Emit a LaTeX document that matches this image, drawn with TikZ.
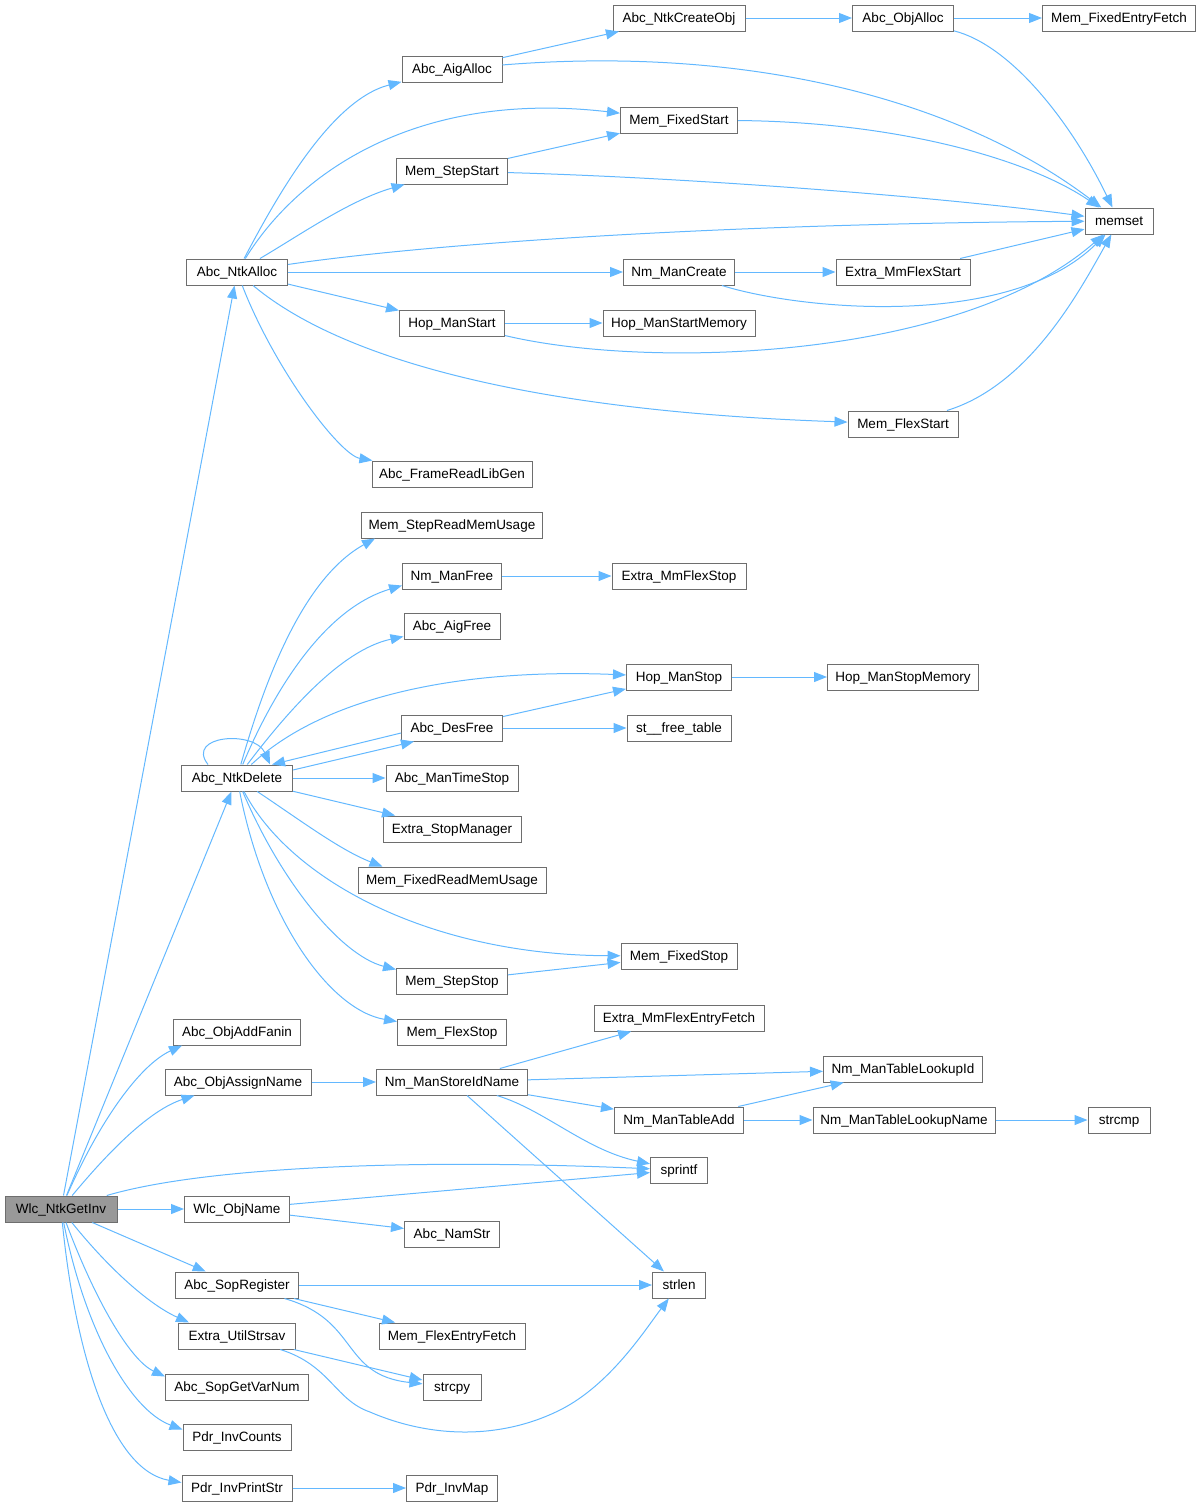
\documentclass[tikz,border=0pt]{standalone}
\usepackage{fontspec}
\setmainfont{Liberation Sans}
\usetikzlibrary{arrows.meta}
\definecolor{edgeblue}{HTML}{63B8FF}
\definecolor{boxline}{HTML}{6E6E6E}
\definecolor{rootfill}{HTML}{999999}

\begin{document}
\begin{tikzpicture}[
    x=1pt, y=-1pt,
    box/.style   ={draw=boxline, line width=1pt, fill=white, inner sep=0pt,
                   minimum height=26pt, text height=9.7pt, text depth=0pt,
                   font=\fontsize{13.5}{16}\selectfont},
    rootbox/.style={box, fill=rootfill},
    arr/.style   ={-{Triangle[length=13pt, width=10pt]}, draw=edgeblue, line width=1pt}
]
\useasboundingbox (0,0) rectangle (1202,1507);

%% -- root and first level ------------------------------------------
\node[rootbox, minimum width=112pt] (ntkgetinv)  at (61,  1209) {Wlc\_NtkGetInv};
\node[box, minimum width=101pt] (ntkalloc)   at (237, 272)  {Abc\_NtkAlloc};
\node[box, minimum width=111pt] (ntkdelete)  at (237, 778)  {Abc\_NtkDelete};
\node[box, minimum width=127pt] (addfanin)   at (237, 1032) {Abc\_ObjAddFanin};
\node[box, minimum width=146pt] (assignname) at (238, 1082) {Abc\_ObjAssignName};
\node[box, minimum width=105pt] (objname)    at (237, 1209) {Wlc\_ObjName};
\node[box, minimum width=123pt] (sopreg)     at (237, 1285) {Abc\_SopRegister};
\node[box, minimum width=117pt] (strsav)     at (237, 1336) {Extra\_UtilStrsav};
\node[box, minimum width=143pt] (varnum)     at (237, 1387) {Abc\_SopGetVarNum};
\node[box, minimum width=108pt] (invcounts)  at (237, 1437) {Pdr\_InvCounts};
\node[box, minimum width=110pt] (invprint)   at (237, 1488) {Pdr\_InvPrintStr};

%% -- callees of Abc_NtkAlloc ----------------------------------------
\node[box, minimum width=100pt] (aigalloc)   at (452, 69)   {Abc\_AigAlloc};
\node[box, minimum width=132pt] (createobj)  at (679, 18)   {Abc\_NtkCreateObj};
\node[box, minimum width=101pt] (objalloc)   at (903, 18)   {Abc\_ObjAlloc};
\node[box, minimum width=153pt] (fixedentry) at (1119, 18)  {Mem\_FixedEntryFetch};
\node[box, minimum width=117pt] (fixedstart) at (679, 120)  {Mem\_FixedStart};
\node[box, minimum width=111pt] (stepstart)  at (452, 171)  {Mem\_StepStart};
\node[box, minimum width=68pt]  (memset)     at (1119, 221) {memset};
\node[box, minimum width=111pt] (nmcreate)   at (679, 272)  {Nm\_ManCreate};
\node[box, minimum width=134pt] (mmflexstart) at (903, 272) {Extra\_MmFlexStart};
\node[box, minimum width=105pt] (hopstart)   at (452, 323)  {Hop\_ManStart};
\node[box, minimum width=152pt] (hopstartmem) at (679, 323) {Hop\_ManStartMemory};
\node[box, minimum width=110pt] (flexstart)  at (903, 424)  {Mem\_FlexStart};
\node[box, minimum width=160pt] (libgen)     at (452, 474)  {Abc\_FrameReadLibGen};

%% -- callees of Abc_NtkDelete ---------------------------------------
\node[box, minimum width=181pt] (stepusage)  at (452, 525)  {Mem\_StepReadMemUsage};
\node[box, minimum width=99pt]  (nmfree)     at (452, 576)  {Nm\_ManFree};
\node[box, minimum width=134pt] (mmflexstop) at (679, 576)  {Extra\_MmFlexStop};
\node[box, minimum width=96pt]  (aigfree)    at (452, 626)  {Abc\_AigFree};
\node[box, minimum width=105pt] (hopstop)    at (679, 677)  {Hop\_ManStop};
\node[box, minimum width=151pt] (hopstopmem) at (903, 677)  {Hop\_ManStopMemory};
\node[box, minimum width=101pt] (desfree)    at (452, 728)  {Abc\_DesFree};
\node[box, minimum width=104pt] (freetable)  at (679, 728)  {st\_\_free\_table};
\node[box, minimum width=132pt] (timestop)   at (452, 778)  {Abc\_ManTimeStop};
\node[box, minimum width=138pt] (stopmgr)    at (452, 829)  {Extra\_StopManager};
\node[box, minimum width=188pt] (fixedusage) at (452, 880)  {Mem\_FixedReadMemUsage};
\node[box, minimum width=116pt] (fixedstop)  at (679, 956)  {Mem\_FixedStop};
\node[box, minimum width=111pt] (stepstop)   at (452, 981)  {Mem\_StepStop};
\node[box, minimum width=109pt] (flexstop)   at (452, 1032) {Mem\_FlexStop};

%% -- names, strings ---------------------------------------------------
\node[box, minimum width=170pt] (mmflexentry) at (679, 1018) {Extra\_MmFlexEntryFetch};
\node[box, minimum width=151pt] (storeid)    at (452, 1082) {Nm\_ManStoreIdName};
\node[box, minimum width=159pt] (lookupid)   at (903, 1069) {Nm\_ManTableLookupId};
\node[box, minimum width=129pt] (tableadd)   at (679, 1120) {Nm\_ManTableAdd};
\node[box, minimum width=182pt] (lookupname) at (904, 1120) {Nm\_ManTableLookupName};
\node[box, minimum width=62pt]  (strcmp)     at (1119, 1120) {strcmp};
\node[box, minimum width=57pt]  (sprintf)    at (679, 1170) {sprintf};
\node[box, minimum width=95pt]  (namstr)     at (452, 1234) {Abc\_NamStr};
\node[box, minimum width=53pt]  (strlen)     at (679, 1285) {strlen};
\node[box, minimum width=146pt] (flexentry)  at (452, 1336) {Mem\_FlexEntryFetch};
\node[box, minimum width=58pt]  (strcpy)     at (452, 1387) {strcpy};
\node[box, minimum width=91pt]  (invmap)     at (452, 1488) {Pdr\_InvMap};

%% -- Wlc_NtkGetInv ----------------------------------------------------
\draw[arr] (ntkgetinv) -- (ntkalloc);
\draw[arr] (ntkgetinv) -- (ntkdelete);
\draw[arr] (ntkgetinv) .. controls (100,1120) and (140,1065) .. ([xshift=9]addfanin.south west);
\draw[arr] (ntkgetinv) .. controls (110,1150) and (150,1110) .. ([xshift=30]assignname.south west);
\draw[arr] (ntkgetinv) .. controls (200,1168) and (400,1158) .. (sprintf);
\draw[arr] (ntkgetinv) -- (objname);
\draw[arr] (ntkgetinv) -- (sopreg);
\draw[arr] (ntkgetinv) .. controls (110,1270) and (150,1305) .. ([xshift=11]strsav.north west);
\draw[arr] (ntkgetinv) .. controls (95,1300) and (130,1360) .. ([yshift=-3]varnum.north west);
\draw[arr] (ntkgetinv) .. controls (85,1330) and (130,1410) .. ([yshift=-6]invcounts.north west);
\draw[arr] (ntkgetinv) .. controls (75,1350) and (110,1470) .. ([yshift=-8]invprint.north west);

%% -- Abc_NtkAlloc -----------------------------------------------------
\draw[arr] (ntkalloc) .. controls (275,200) and (330,100) .. (aigalloc);
\draw[arr] (ntkalloc) .. controls (300,170) and (420,90) .. (fixedstart);
\draw[arr] (ntkalloc) .. controls (300,235) and (350,200) .. (stepstart);
\draw[arr] (ntkalloc) .. controls (420,245) and (700,224) .. (memset);
\draw[arr] (ntkalloc) -- (nmcreate);
\draw[arr] (ntkalloc) -- (hopstart);
\draw[arr] (ntkalloc) .. controls (330,350) and (500,410) .. (flexstart);
\draw[arr] (ntkalloc) .. controls (275,370) and (340,455) .. (libgen);

\draw[arr] (aigalloc)  -- (createobj);
\draw[arr] (aigalloc)  .. controls (750,45) and (960,100) .. (memset);
\draw[arr] (createobj) -- (objalloc);
\draw[arr] (objalloc)  -- (fixedentry);
\draw[arr] (objalloc)  .. controls (1010,45) and (1070,120) .. (memset);
\draw[arr] (fixedstart) .. controls (900,122) and (1030,160) .. (memset);
\draw[arr] (stepstart) -- (fixedstart);
\draw[arr] (stepstart) .. controls (700,178) and (950,198) .. (memset);
\draw[arr] (nmcreate)  -- (mmflexstart);
\draw[arr] (nmcreate)  .. controls (800,310) and (1010,330) .. (memset);
\draw[arr] (mmflexstart) -- (memset);
\draw[arr] (hopstart)  -- (hopstartmem);
\draw[arr] (hopstart)  .. controls (650,370) and (960,360) .. (memset);
\draw[arr] (flexstart) .. controls (1030,385) and (1080,290) .. (memset);

%% -- Abc_NtkDelete ----------------------------------------------------
\draw[arr] ([xshift=-29]ntkdelete.north) .. controls (185,735) and (255,730) .. ([xshift=33]ntkdelete.north);
\draw[arr] (ntkdelete) .. controls (262,690) and (300,580) .. ([xshift=14]stepusage.south west);
\draw[arr] (ntkdelete) .. controls (270,700) and (320,610) .. ([yshift=4]nmfree.south west);
\draw[arr] (ntkdelete) .. controls (285,715) and (340,650) .. ([yshift=3]aigfree.south west);
\draw[arr] (ntkdelete) .. controls (320,700) and (450,668) .. (hopstop);
\draw[arr] ([yshift=8]ntkdelete.east) -- ([xshift=13]desfree.south west);
\draw[arr] ([yshift=-5]desfree.west) -- ([xshift=-21]ntkdelete.north east);
\draw[arr] (ntkdelete) -- (timestop);
\draw[arr] (ntkdelete) -- (stopmgr);
\draw[arr] (ntkdelete) .. controls (300,820) and (340,850) .. ([xshift=25]fixedusage.north west);
\draw[arr] (ntkdelete) .. controls (290,880) and (430,955) .. (fixedstop);
\draw[arr] (ntkdelete) .. controls (280,880) and (340,955) .. ([yshift=-2]stepstop.north west);
\draw[arr] (ntkdelete) .. controls (265,920) and (330,1010) .. ([yshift=-3]flexstop.north west);

\draw[arr] (nmfree)   -- (mmflexstop);
\draw[arr] (hopstop)  -- (hopstopmem);
\draw[arr] (desfree)  -- (hopstop);
\draw[arr] (desfree)  -- (freetable);
\draw[arr] (stepstop) -- (fixedstop);

%% -- name manager -----------------------------------------------------
\draw[arr] (assignname) -- (storeid);
\draw[arr] (storeid) -- (mmflexentry);
\draw[arr] (storeid) -- (lookupid);
\draw[arr] (storeid) -- (tableadd);
\draw[arr] (storeid) .. controls (545,1110) and (585,1150) .. (sprintf);
\draw[arr] (storeid) -- (strlen);
\draw[arr] (tableadd) -- (lookupid);
\draw[arr] (tableadd) -- (lookupname);
\draw[arr] (lookupname) -- (strcmp);

%% -- strings ----------------------------------------------------------
\draw[arr] (objname) -- (sprintf);
\draw[arr] (objname) -- (namstr);
\draw[arr] (sopreg) -- (strlen);
\draw[arr] (sopreg) -- (flexentry);
\draw[arr] (sopreg) .. controls (360,1320) and (340,1375) .. (strcpy);
\draw[arr] (strsav) -- (strcpy);
\draw[arr] (strsav) .. controls (330,1365) and (335,1400) .. (370,1412)
    .. controls (430,1438) and (500,1440) .. (560,1410)
    .. controls (610,1385) and (645,1330) .. (strlen);
\draw[arr] (invprint) -- (invmap);

\end{tikzpicture}
\end{document}
